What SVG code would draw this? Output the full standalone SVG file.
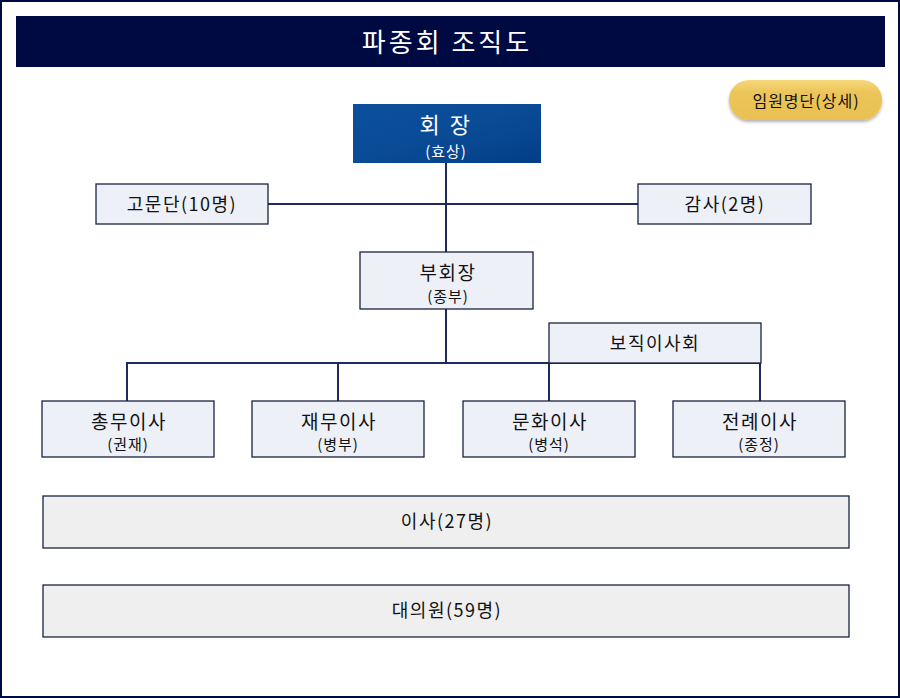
<svg xmlns="http://www.w3.org/2000/svg" width="900" height="698" viewBox="0 0 900 698">
<defs>
<linearGradient id="blue" x1="0" y1="0" x2="1" y2="1">
<stop offset="0" stop-color="#0b4f9c"/>
<stop offset="0.5" stop-color="#0a4b96"/>
<stop offset="1" stop-color="#033e88"/>
</linearGradient>
<linearGradient id="gold" x1="0" y1="0" x2="0" y2="1">
<stop offset="0" stop-color="#f6d77c"/>
<stop offset="0.3" stop-color="#ecc55a"/>
<stop offset="1" stop-color="#e8c052"/>
</linearGradient>
<filter id="sh" x="-10%" y="-20%" width="120%" height="160%">
<feDropShadow dx="0" dy="2" stdDeviation="1.5" flood-color="#000" flood-opacity="0.3"/>
</filter>
<style>
text{font-family:"Noto Sans CJK KR","Noto Sans",sans-serif;text-anchor:middle;fill:#111;}
.box{fill:#edf0f7;stroke:#1a2340;stroke-width:1.3;}
.gray{fill:#efefef;stroke:#1a2340;stroke-width:1.3;}
.ln{stroke:#1f2a5c;stroke-width:2;fill:none;}
.t1{font-size:19px;letter-spacing:1.5px;}
.t2{font-size:15px;letter-spacing:1px;}
.t3{font-size:18px;letter-spacing:1.5px;}
</style>
</defs>
<rect x="0" y="0" width="900" height="698" fill="#fff"/>
<rect x="1" y="1" width="898" height="696" fill="none" stroke="#000a42" stroke-width="2"/>
<g id="title">
<rect x="16" y="16" width="869" height="51" fill="#000a42"/>
<text x="447" y="52" style="font-size:26px;letter-spacing:3px;fill:#fff">파종회 조직도</text>
</g>
<g id="badge">
<rect x="729" y="80" width="153" height="40" rx="20" fill="url(#gold)" filter="url(#sh)"/>
<text x="806" y="107" style="font-size:16px;letter-spacing:1px">임원명단(상세)</text>
</g>
<g id="connectors">
<line class="ln" x1="446" y1="163" x2="446" y2="252"/>
<line class="ln" x1="268" y1="204" x2="638" y2="204"/>
<line class="ln" x1="446" y1="309" x2="446" y2="363"/>
<line class="ln" x1="126" y1="363" x2="761" y2="363"/>
<line class="ln" x1="127" y1="363" x2="127" y2="401"/>
<line class="ln" x1="338" y1="363" x2="338" y2="401"/>
<line class="ln" x1="549" y1="363" x2="549" y2="401"/>
<line class="ln" x1="760" y1="363" x2="760" y2="401"/>
</g>
<g id="chairman">
<rect x="353" y="104" width="188" height="59" fill="url(#blue)"/>
<text x="446" y="133" style="font-size:22px;letter-spacing:2.5px;fill:#fff">회 장</text>
<text x="446" y="157" style="font-size:15px;letter-spacing:1px;fill:#fff">(효상)</text>
</g>
<g id="advisors">
<rect class="box" x="96" y="184" width="172" height="40"/>
<text class="t3" x="182" y="211">고문단(10명)</text>
</g>
<g id="auditor">
<rect class="box" x="638" y="184" width="173" height="40"/>
<text class="t3" x="725" y="211">감사(2명)</text>
</g>
<g id="vice">
<rect class="box" x="360" y="252" width="173" height="57"/>
<text class="t1" x="448" y="280">부회장</text>
<text class="t2" x="448" y="302">(종부)</text>
</g>
<g id="board">
<rect class="box" x="549" y="323" width="212" height="40"/>
<text class="t3" x="655" y="350">보직이사회</text>
</g>
<g id="d1">
<rect class="box" x="42" y="401" width="172" height="56"/>
<text class="t1" x="129" y="429">총무이사</text>
<text class="t2" x="128" y="450">(권재)</text>
</g>
<g id="d2">
<rect class="box" x="252" y="401" width="172" height="56"/>
<text class="t1" x="339" y="429">재무이사</text>
<text class="t2" x="338" y="450">(병부)</text>
</g>
<g id="d3">
<rect class="box" x="463" y="401" width="172" height="56"/>
<text class="t1" x="550" y="429">문화이사</text>
<text class="t2" x="549" y="450">(병석)</text>
</g>
<g id="d4">
<rect class="box" x="673" y="401" width="172" height="56"/>
<text class="t1" x="760" y="429">전례이사</text>
<text class="t2" x="759" y="450">(종정)</text>
</g>
<g id="directors">
<rect class="gray" x="43" y="496" width="806" height="52"/>
<text class="t3" x="447" y="528">이사(27명)</text>
</g>
<g id="delegates">
<rect class="gray" x="43" y="585" width="806" height="52"/>
<text class="t3" x="447" y="617">대의원(59명)</text>
</g>
</svg>
